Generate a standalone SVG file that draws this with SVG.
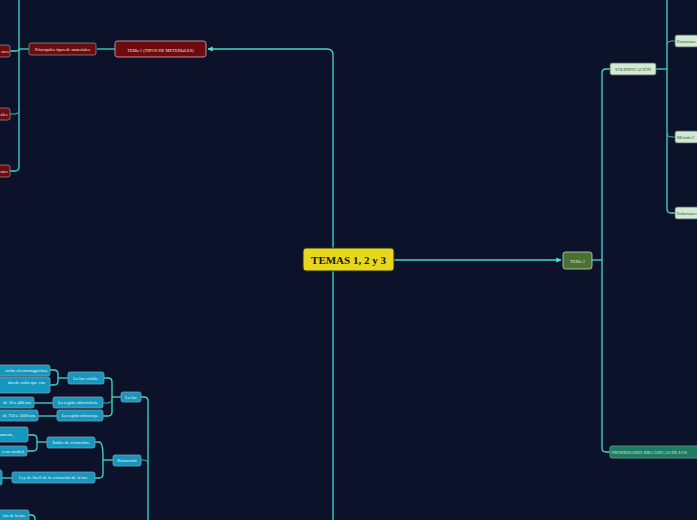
<svg xmlns="http://www.w3.org/2000/svg" width="697" height="520" viewBox="0 0 697 520">
<defs>
<marker id="arr" viewBox="0 0 10 10" refX="9" refY="5" markerWidth="4" markerHeight="4" orient="auto"><path d="M0,0 L10,5 L0,10 z" fill="#4ee6d6"/></marker>
<style>
.c{fill:none;stroke:#44d8c8;stroke-width:1.3}
.t{stroke:#33b8aa;stroke-width:1}
.red rect{fill:#6c0c0e;stroke:#8a8a8a;stroke-width:0.8}
.blue rect{fill:#1597be;stroke:#7fa0b4;stroke-width:0.8}
.lg rect{fill:#d2ead2;stroke:#55605a;stroke-width:0.8}
text{font-family:"Liberation Serif",serif;font-size:4.5px;fill:#f0e8e8;text-anchor:middle}
.lg text{fill:#3c4a3c}
.blue text{fill:#eaf6fa}
</style>
</defs>
<rect width="697" height="520" fill="#0b1229"/>
<g id="connectors">
<path class="c" d="M333,248 V55 Q333,49 327,49 H208" marker-end="url(#arr)"/>
<path class="c" d="M394,260 H561" marker-end="url(#arr)"/>
<path class="c" d="M333,271 V520"/>
<path class="c" d="M115,49 H97"/>
<path class="c" d="M29,49 H19"/>
<path class="c" d="M19,0 V167 Q19,171 15,171 H10"/>
<path class="c" d="M19,49 Q19,51 15,51 H10"/>
<path class="c t" d="M19,110 Q19,114 15,114 H10"/>
<path class="c" d="M592,260 H602"/>
<path class="c" d="M602,448 V73 Q602,69 606,69 H610"/>
<path class="c" d="M602,448 Q602,452 606,452 H610"/>
<path class="c" d="M656,69 H667"/>
<path class="c" d="M667,0 V209 Q667,213 671,213 H675"/>
<path class="c t" d="M667,45 Q667,41 671,41 H675"/>
<path class="c t" d="M667,133 Q667,137 671,137 H675"/>
<path class="c" d="M141,397 H144 Q148,397 148,401 V520"/>
<path class="c t" d="M141,460 H144 Q148,460 148,464"/>
<path class="c" d="M121,397 H112"/>
<path class="c" d="M112,382 Q112,378 108,378 H104"/>
<path class="c" d="M112,382 V412 Q112,416 108,416 H103"/>
<path class="c t" d="M112,399 Q112,403 108,403 H103"/>
<path class="c" d="M68,378 H58"/>
<path class="c" d="M50,370 H54 Q58,370 58,374 V381 Q58,385 54,385 H50"/>
<path class="c" d="M53,403 H34"/>
<path class="c" d="M57,416 H38"/>
<path class="c" d="M113,460 H103"/>
<path class="c" d="M103,456 Q103,442 99,442 H95"/>
<path class="c" d="M103,456 V474 Q103,478 99,478 H95"/>
<path class="c" d="M47,442 H37"/>
<path class="c" d="M28,435 H33 Q37,435 37,439 V447 Q37,451 33,451 H27"/>
<path class="c" d="M12,478 H2"/>
<path class="c" d="M29,515 H31 Q35,515 35,519 V520"/>
</g>
<g id="n-center"><rect x="303" y="248" width="91" height="23" rx="3" fill="#e6d81c" stroke="#2a2a10" stroke-width="1"/><text x="348.5" y="263.5" style="font-size:11px;font-weight:bold;fill:#141414">TEMAS 1, 2 y 3</text></g>
<g id="n-tema1" class="red"><rect x="115" y="41" width="91" height="16" rx="2.5" style="stroke:#e4b0b0"/><text x="160.5" y="51.5">TEMa 1 (TIPOS DE METERIaLES)</text></g>
<g id="n-principales" class="red"><rect x="29" y="43" width="67" height="12" rx="2"/><text x="62.5" y="50.5">Principales tipos de materiales</text></g>
<g id="n-r1" class="red"><rect x="-20" y="45" width="30" height="12" rx="2"/><text x="5" y="52.5">ores</text></g>
<g id="n-r2" class="red"><rect x="-20" y="108" width="30" height="12" rx="2"/><text x="4" y="115.5">ales</text></g>
<g id="n-r3" class="red"><rect x="-20" y="165" width="30" height="12" rx="2"/><text x="4" y="172.5">ntes</text></g>
<g id="n-tema2"><rect x="563" y="252" width="29" height="17" rx="2.5" fill="#4a7034" stroke="#c8d8c0" stroke-width="0.8"/><text x="577.5" y="262.5" style="fill:#e0ead8">TEMa 2</text></g>
<g id="n-solid" class="lg"><rect x="610" y="63" width="46" height="12" rx="2"/><text x="633" y="70.5">SOLIDIFICACIÓN</text></g>
<g id="n-prop"><rect x="610" y="446" width="100" height="12" rx="2" fill="#1f7a62" stroke="#5aa890" stroke-width="0.8"/><text x="612" y="453.5" style="text-anchor:start;fill:#d0e8e0">PROPIEDADES MECÁNICAS DE LOS</text></g>
<g id="n-estr" class="lg"><rect x="675" y="35" width="40" height="12" rx="2"/><text x="677" y="42.5" style="text-anchor:start">Estructura</text></g>
<g id="n-metodo" class="lg"><rect x="675" y="131" width="40" height="12" rx="2"/><text x="677" y="138.5" style="text-anchor:start">Método C</text></g>
<g id="n-soluc" class="lg"><rect x="675" y="207" width="40" height="12" rx="2"/><text x="677" y="214.5" style="text-anchor:start">Soluciones</text></g>
<g id="n-laluz" class="blue"><rect x="121" y="392" width="20" height="10" rx="2"/><text x="131" y="398.5">La luz</text></g>
<g id="n-refr" class="blue"><rect x="113" y="455" width="28" height="11" rx="2"/><text x="127" y="462">Refracción</text></g>
<g id="n-visible" class="blue"><rect x="68" y="372" width="36" height="12" rx="2"/><text x="86" y="379.5">La luz visible.</text></g>
<g id="n-uv" class="blue"><rect x="53" y="397" width="50" height="11" rx="2"/><text x="78" y="404">La región ultravioleta.</text></g>
<g id="n-ir" class="blue"><rect x="57" y="410" width="46" height="11" rx="2"/><text x="80" y="417">La región infrarroja.</text></g>
<g id="n-v1" class="blue"><rect x="-20" y="365" width="70" height="11" rx="2"/><text x="48" y="372" style="text-anchor:end">ación electromagnética.</text></g>
<g id="n-v2" class="blue"><rect x="-20" y="377" width="70" height="16" rx="2"/><text x="45" y="384" style="text-anchor:end">das de color que van</text></g>
<g id="n-uv1" class="blue"><rect x="-20" y="397" width="54" height="11" rx="2"/><text x="32" y="404" style="text-anchor:end">de 10 a 400 nm.</text></g>
<g id="n-ir1" class="blue"><rect x="-20" y="410" width="58" height="11" rx="2"/><text x="36" y="417" style="text-anchor:end">de 750 a 1000 nm.</text></g>
<g id="n-indice" class="blue"><rect x="47" y="437" width="48" height="11" rx="2"/><text x="71" y="444">Índice de refracción.</text></g>
<g id="n-snell" class="blue"><rect x="12" y="472" width="83" height="11" rx="2"/><text x="53.5" y="479">Ley de Snell de la refracción de la luz.</text></g>
<g id="n-i1" class="blue"><rect x="-20" y="427" width="48" height="15" rx="2"/><text x="14" y="435.5" style="text-anchor:end">amente,</text></g>
<g id="n-i2" class="blue"><rect x="-20" y="446" width="47" height="10" rx="2"/><text x="25" y="452.5" style="text-anchor:end">n un medio).</text></g>
<g id="n-s1" class="blue"><rect x="-20" y="470" width="22" height="15" rx="2"/></g>
<g id="n-b1" class="blue"><rect x="-20" y="510" width="49" height="12" rx="2"/><text x="26" y="517" style="text-anchor:end">ión de la luz.</text></g>
</svg>
